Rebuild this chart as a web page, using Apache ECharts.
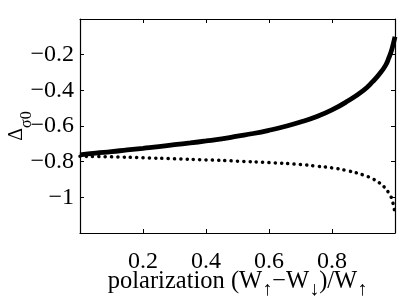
<!DOCTYPE html>
<html>
<head>
<meta charset="utf-8">
<script src="https://cdn.jsdelivr.net/npm/echarts@6/dist/echarts.min.js"></script>
<style>html,body{margin:0;padding:0;background:#fff}#c{width:409px;height:296px}</style>
</head>
<body>
<div id="c"></div>
<script>
const xTicks = [0.2, 0.4, 0.6, 0.8];
const yTicks = [-1, -0.8, -0.6, -0.4, -0.2];
const polarization = [0, 0.05, 0.1, 0.15, 0.2, 0.25, 0.3, 0.35, 0.4, 0.45, 0.5, 0.55, 0.6, 0.65, 0.7, 0.75, 0.8, 0.85, 0.9, 0.93, 0.95, 0.97, 0.98, 0.99, 1.0];
const solidValues = [-0.762, -0.752, -0.744, -0.734, -0.725, -0.716, -0.705, -0.695, -0.684, -0.672, -0.657, -0.642, -0.624, -0.603, -0.578, -0.548, -0.51, -0.46, -0.40, -0.35, -0.31, -0.26, -0.22, -0.17, -0.10];
const dotPolarization = [0, 0.1, 0.2, 0.3, 0.4, 0.5, 0.6, 0.7, 0.75, 0.8, 0.85, 0.9, 0.93, 0.95, 0.97, 0.98, 0.99, 1.0];
const dottedValues = [-0.770, -0.773, -0.778, -0.784, -0.790, -0.797, -0.805, -0.816, -0.825, -0.835, -0.851, -0.875, -0.897, -0.918, -0.950, -0.975, -1.01, -1.09];

const FONT = 'Liberation Serif';
const FS = 24;
const fmt = v => {
  const r = Math.round(v * 10) / 10;
  return (r < 0 ? '\u2212' : '') + String(Math.abs(r));
};
const chart = echarts.init(document.getElementById('c'));
const tickStyle = { show: true, inside: true, length: 4, lineStyle: { color: '#000', width: 1 } };
const lineStyle = { show: true, onZero: false, lineStyle: { color: '#000', width: 1.2 } };
chart.setOption({
  animation: false,
  grid: { left: 80, right: 14, top: 19, bottom: 63, outerBoundsMode: 'none', containLabel: false },
  xAxis: [{
    type: 'value', min: 0, max: 1, interval: 0.2, position: 'bottom',
    axisLine: lineStyle, axisTick: tickStyle, splitLine: { show: false },
    axisLabel: { show: true, showMinLabel: false, showMaxLabel: false, margin: 17,
      fontFamily: FONT, fontSize: FS, color: '#000',
      formatter: v => xTicks.some(t => Math.abs(t - v) < 1e-6) ? fmt(v) : '' },
    name: '{n|polarization (W}{s|\u2191}{n|\u2212W}{s|\u2193}{n|)/W}{s|\u2191}',
    nameLocation: 'middle', nameGap: 36, nameMoveOverlap: false,
    nameTextStyle: { rich: {
      n: { fontFamily: FONT, fontSize: 24.5, color: '#000', lineHeight: 26 },
      s: { fontFamily: FONT, fontSize: 20, color: '#000', lineHeight: 26, padding: [15, 0, 0, 0] }
    } }
  }, {
    type: 'value', min: 0, max: 1, interval: 0.2, position: 'top',
    axisLine: lineStyle, axisTick: tickStyle, splitLine: { show: false }, axisLabel: { show: false }
  }],
  yAxis: [{
    type: 'value', min: -1.2, max: 0, interval: 0.2, position: 'left',
    axisLine: lineStyle, axisTick: tickStyle, splitLine: { show: false },
    axisLabel: { show: true, margin: 6, fontFamily: FONT, fontSize: FS, color: '#000',
      formatter: v => yTicks.some(t => Math.abs(t - v) < 1e-6) ? fmt(v) : '' },
    name: '{n|\u0394}{s|\u03c30}',
    nameLocation: 'middle', nameRotate: 90, nameGap: 52, nameMoveOverlap: false,
    nameTextStyle: { rich: {
      n: { fontFamily: FONT, fontSize: 20, color: '#000', lineHeight: 22 },
      s: { fontFamily: FONT, fontSize: 16, color: '#000', lineHeight: 22, padding: [20, 0, 0, 0] }
    } }
  }, {
    type: 'value', min: -1.2, max: 0, interval: 0.2, position: 'right',
    axisLine: lineStyle, axisTick: tickStyle, splitLine: { show: false }, axisLabel: { show: false }
  }],
  series: [{
    type: 'line', xAxisIndex: 0, yAxisIndex: 0, showSymbol: false, smooth: 0.5,
    data: polarization.map((x, i) => [x, solidValues[i]]),
    lineStyle: { color: '#000', width: 4.8 }, z: 3
  }, {
    type: 'line', xAxisIndex: 0, yAxisIndex: 0, showSymbol: false, smooth: 0.5,
    data: dotPolarization.map((x, i) => [x, dottedValues[i]]),
    lineStyle: { color: '#000', width: 3.5, type: [0.1, 6.2], cap: 'round' }, z: 2
  }]
});
</script>
</body>
</html>
